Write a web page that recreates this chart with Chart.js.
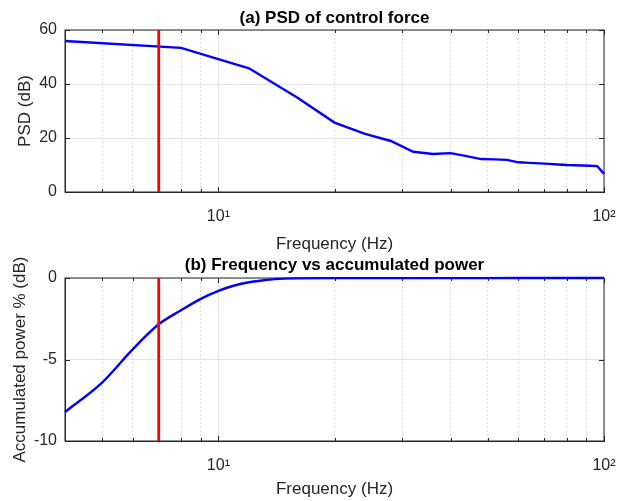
<!DOCTYPE html>
<html>
<head>
<meta charset="utf-8">
<script src="https://cdn.jsdelivr.net/npm/chart.js@4"></script>
<style>
  html, body { margin: 0; padding: 0; background: #fff; }
  body { width: 618px; height: 501px; position: relative; overflow: hidden; }
  .panel { position: absolute; left: 0; width: 618px; }
  #panel-a { top: 0; height: 260px; }
  #panel-b { top: 250px; height: 251px; }
</style>
</head>
<body>
<div class="panel" id="panel-a"><canvas id="chart-psd" width="618" height="260"></canvas></div>
<div class="panel" id="panel-b"><canvas id="chart-power" width="618" height="251"></canvas></div>
<script>
// (a) PSD of control force
const psdFreq = [4, 8, 12, 16, 20, 24, 28, 32, 36, 40, 44, 48, 52, 56, 60, 64, 68, 72, 76, 80, 84, 88, 92, 96, 100];
const psdValues = [55.9, 53.4, 45.8, 35.0, 25.7, 21.5, 18.9, 14.9, 14.1, 14.4, 13.3, 12.2, 12.1, 11.9, 11.0, 10.8, 10.6, 10.4, 10.2, 10.0, 9.9, 9.8, 9.7, 9.6, 6.7];

// (b) Frequency vs accumulated power
const powerFreq = [4, 5, 6, 7, 8, 9, 10, 11, 12, 13, 14, 16, 20, 30, 40, 60, 80, 100];
const powerValues = [-8.22, -6.40, -4.36, -2.84, -1.98, -1.28, -0.79, -0.46, -0.26, -0.15, -0.07, -0.02, -0.01, -0.01, -0.01, 0, 0, 0];

const cutoffFreq = 7;
const psdTicks = [0, 20, 40, 60];
const powerTicks = [-10, -5, 0];
const majorFreqTicks = [10, 100];
const minorFreqTicks = [5, 6, 7, 8, 9, 20, 30, 40, 50, 60, 70, 80, 90];
const freqTickLabels = { 10: "10\u00b9", 100: "10\u00b2" };

const FONT = "'Liberation Sans', Arial, sans-serif";
const AXIS_COLOR = "#262626";

const noScalePadding = (scale) => {
    scale.paddingLeft = 0;
    scale.paddingRight = 0;
    scale.paddingTop = 0;
    scale.paddingBottom = 0;
};

// box around the axes plus small inward ticks, like matlab "box on"
const axesBox = {
    id: "axesBox",
    beforeDatasetsDraw(chart) {
        const { ctx, chartArea: a, scales } = chart;
        ctx.save();
        ctx.strokeStyle = AXIS_COLOR;
        ctx.lineWidth = 1;
        ctx.beginPath();
        majorFreqTicks.concat(minorFreqTicks).forEach((f) => {
            const x = Math.round(scales.x.getPixelForValue(f)) + 0.5;
            const len = majorFreqTicks.includes(f) ? 5 : 3;
            ctx.moveTo(x, a.bottom);
            ctx.lineTo(x, a.bottom - len);
            ctx.moveTo(x, a.top);
            ctx.lineTo(x, a.top + len);
        });
        scales.y.ticks.forEach((t) => {
            const y = Math.round(scales.y.getPixelForValue(t.value)) + 0.5;
            ctx.moveTo(a.left, y);
            ctx.lineTo(a.left + 5, y);
            ctx.moveTo(a.right, y);
            ctx.lineTo(a.right - 5, y);
        });
        ctx.stroke();
        ctx.strokeRect(a.left, a.top, a.right - a.left, a.bottom - a.top);
        ctx.restore();
    },
};

const makeChart = (canvasId, cfg) => {
    const curve = cfg.freq.map((f, i) => ({ x: f, y: cfg.values[i] }));
    return new Chart(document.getElementById(canvasId), {
        type: "line",
        data: {
            datasets: [
                {
                    label: "cutoff",
                    data: [
                        { x: cutoffFreq, y: cfg.yTicks[0] },
                        { x: cutoffFreq, y: cfg.yTicks[cfg.yTicks.length - 1] },
                    ],
                    borderColor: "#ff0000",
                    borderWidth: 2.8,
                    pointRadius: 0,
                    clip: 3,
                },
                {
                    label: cfg.yLabel,
                    data: curve,
                    borderColor: "#0000ff",
                    borderWidth: 2.4,
                    pointRadius: 0,
                    cubicInterpolationMode: cfg.smooth ? "monotone" : "default",
                    tension: 0,
                    clip: 3,
                },
            ],
        },
        plugins: [axesBox],
        options: {
            responsive: false,
            animation: false,
            layout: {
                padding: { left: 0, right: 14, top: 0, bottom: cfg.bottomPad },
            },
            plugins: {
                legend: { display: false },
                tooltip: { enabled: false },
                title: {
                    display: true,
                    text: cfg.title,
                    fullSize: false,
                    color: "#000",
                    font: { family: FONT, size: 17, weight: "bold", lineHeight: 1 },
                    padding: cfg.titlePad,
                },
            },
            scales: {
                x: {
                    type: "logarithmic",
                    position: "bottom",
                    min: 4,
                    max: 100,
                    afterBuildTicks: (scale) => {
                        scale.ticks = majorFreqTicks.map((v) => ({ value: v, major: true }));
                    },
                    afterFit: (scale) => {
                        scale.height = cfg.xHeight;
                        noScalePadding(scale);
                    },
                    ticks: {
                        autoSkip: false,
                        maxRotation: 0,
                        minRotation: 0,
                        padding: 17,
                        color: AXIS_COLOR,
                        font: { family: FONT, size: 16, lineHeight: 1 },
                        callback: (value) => freqTickLabels[value] || "",
                    },
                    grid: { color: "#e3e3e3", drawTicks: false },
                    border: { color: AXIS_COLOR },
                    title: {
                        display: true,
                        text: "Frequency (Hz)",
                        color: AXIS_COLOR,
                        font: { family: FONT, size: 17, lineHeight: 1 },
                        padding: { top: 0, bottom: 3.5 },
                    },
                },
                xm: {
                    type: "logarithmic",
                    position: "bottom",
                    min: 4,
                    max: 100,
                    afterBuildTicks: (scale) => {
                        scale.ticks = minorFreqTicks.map((v) => ({ value: v }));
                    },
                    afterFit: (scale) => {
                        scale.height = 0;
                        noScalePadding(scale);
                    },
                    ticks: { display: false, autoSkip: false },
                    grid: { color: "#d2d2d2", drawTicks: false },
                    border: { display: false, dash: [1.5, 2.5] },
                },
                y: {
                    type: "linear",
                    min: cfg.yTicks[0],
                    max: cfg.yTicks[cfg.yTicks.length - 1],
                    afterBuildTicks: (scale) => {
                        scale.ticks = cfg.yTicks.map((v) => ({ value: v }));
                    },
                    afterFit: (scale) => {
                        scale.width = 65;
                        noScalePadding(scale);
                    },
                    ticks: {
                        padding: 8,
                        color: AXIS_COLOR,
                        font: { family: FONT, size: 16, lineHeight: 1 },
                    },
                    grid: { color: "#e3e3e3", drawTicks: false },
                    border: { color: AXIS_COLOR },
                    title: {
                        display: true,
                        text: cfg.yLabel,
                        color: AXIS_COLOR,
                        font: { family: FONT, size: 17, lineHeight: 1 },
                        padding: { top: cfg.yTitlePad, bottom: 0 },
                    },
                },
            },
        },
    });
};

const chartPsd = makeChart("chart-psd", {
    freq: psdFreq,
    values: psdValues,
    yTicks: psdTicks,
    smooth: false,
    title: "(a) PSD of control force",
    yLabel: "PSD (dB)",
    titlePad: { top: 10, bottom: 3 },
    xHeight: 64,
    bottomPad: 4,
    yTitlePad: 16.5,
});

const chartPower = makeChart("chart-power", {
    freq: powerFreq,
    values: powerValues,
    yTicks: powerTicks,
    smooth: true,
    title: "(b) Frequency vs accumulated power",
    yLabel: "Accumulated power % (dB)",
    titlePad: { top: 6.5, bottom: 4.5 },
    xHeight: 60,
    bottomPad: 0,
    yTitlePad: 11.5,
});
</script>
</body>
</html>
